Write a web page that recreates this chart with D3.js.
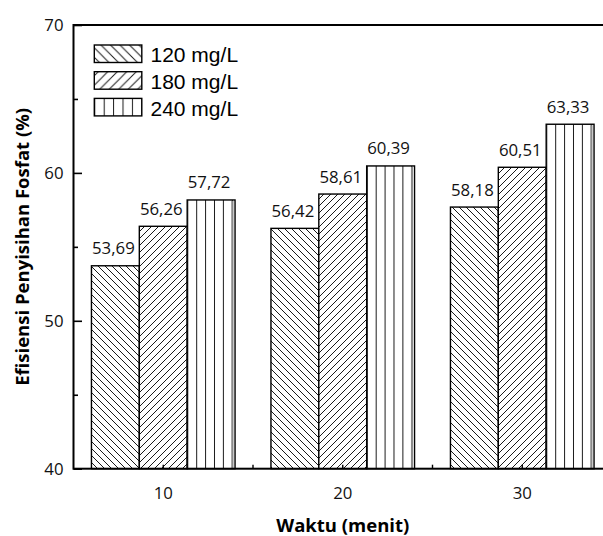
<!DOCTYPE html>
<html>
<head>
<meta charset="utf-8">
<script src="https://cdn.jsdelivr.net/npm/d3@7"></script>
<style>
  html, body { margin: 0; padding: 0; background: #fff; }
  svg { display: block; }
</style>
</head>
<body>
<svg id="chart" width="603" height="536"></svg>
<script>
// ---- data ----
const categories = ["10", "20", "30"];
const seriesNames = ["120 mg/L", "180 mg/L", "240 mg/L"];
const values120 = [53.72, 56.25, 57.69];
const values180 = [56.39, 58.57, 60.38];
const values240 = [58.17, 60.47, 63.29];
const labels120 = ["53,69", "56,42", "58,18"];
const labels180 = ["56,26", "58,61", "60,51"];
const labels240 = ["57,72", "60,39", "63,33"];
const yTicks = [40, 50, 60, 70];
const yMinorTicks = [45, 55, 65];
const xTitle = "Waktu (menit)";
const yTitle = "Efisiensi Penyisihan Fosfat (%)";

(function () {
const seriesValues = [values120, values180, values240];
const seriesLabels = [labels120, labels180, labels240];

const svg = d3.select("#chart");
const pL = 73.5, pR = 612, pT = 25, pB = 468.7;

const x = d3.scaleBand().domain(categories).range([pL, pR]).paddingInner(0.2).paddingOuter(0.1);
const xs = d3.scaleBand().domain(seriesNames).range([0, x.bandwidth()]);
const y = d3.scaleLinear().domain([40, 70]).range([pB, pT]);

const defs = svg.append("defs");
function diagPattern(id, size, dir, ox) {
  const p = defs.append("pattern").attr("id", id).attr("patternUnits", "userSpaceOnUse")
    .attr("width", size).attr("height", size).attr("x", ox || 0);
  p.append("rect").attr("width", size).attr("height", size).attr("fill", "#fff");
  const s = size;
  if (dir === "back") {
    p.append("path").attr("d", `M0,0 L${s},${s} M${-s/2},${s/2} L${s/2},${3*s/2} M${s/2},${-s/2} L${3*s/2},${s/2}`)
      .attr("stroke", "#1a1a1a").attr("stroke-width", 1).attr("fill", "none");
  } else {
    p.append("path").attr("d", `M0,${s} L${s},0 M${-s/2},${s/2} L${s/2},${-s/2} M${s/2},${3*s/2} L${3*s/2},${s/2}`)
      .attr("stroke", "#1a1a1a").attr("stroke-width", 1).attr("fill", "none");
  }
}
function vertPattern(id, size, ox) {
  const p = defs.append("pattern").attr("id", id).attr("patternUnits", "userSpaceOnUse")
    .attr("width", size).attr("height", 10).attr("x", ox);
  p.append("rect").attr("width", size).attr("height", 10).attr("fill", "#fff");
  p.append("line").attr("x1", 0.5).attr("x2", 0.5).attr("y1", 0).attr("y2", 10)
    .attr("stroke", "#1a1a1a").attr("stroke-width", 1);
}
diagPattern("pat0", 7, "back");
diagPattern("pat1", 7, "fwd");
diagPattern("leg0", 9.5, "back", 94);
diagPattern("leg1", 9.5, "fwd", 94);

// ---- bars ----
const barData = [];
categories.forEach((c, ci) => {
  seriesNames.forEach((s, si) => {
    barData.push({ c, s, si, v: seriesValues[si][ci], label: seriesLabels[si][ci] });
  });
});
barData.forEach((d, i) => {
  if (d.si === 2) vertPattern("vp" + i, 8.9, x(d.c) + xs(d.s) + 9);
});

const g = svg.append("g");
g.selectAll("rect.bar").data(barData).join("rect")
  .attr("class", "bar")
  .attr("x", d => x(d.c) + xs(d.s))
  .attr("y", d => y(d.v))
  .attr("width", xs.bandwidth())
  .attr("height", d => y(40) - y(d.v))
  .attr("fill", (d, i) => d.si === 2 ? `url(#vp${i})` : `url(#pat${d.si})`)
  .attr("stroke", "#000").attr("stroke-width", 1.4);

// gray shading line near right edge of 240 bars
g.selectAll("line.shade").data(barData.filter(d => d.si === 2)).join("line")
  .attr("class", "shade")
  .attr("x1", d => x(d.c) + xs(d.s) + xs.bandwidth() - 2.6)
  .attr("x2", d => x(d.c) + xs(d.s) + xs.bandwidth() - 2.6)
  .attr("y1", d => y(d.v) + 1)
  .attr("y2", y(40))
  .attr("stroke", "#8a8a8a").attr("stroke-width", 2);

const font = "'Open Sans', 'Noto Sans', sans-serif";

// value labels
g.selectAll("text.val").data(barData).join("text")
  .attr("class", "val")
  .attr("x", d => x(d.c) + xs(d.s) + xs.bandwidth() / 2 - 2)
  .attr("y", d => y(d.v) - 11.5)
  .attr("text-anchor", "middle")
  .style("font-family", font)
  .style("font-size", "16.8px")
  .attr("fill", "#111")
  .text(d => d.label);

// ---- axes ----
const yAxis = d3.axisLeft(y).tickValues(yTicks).tickSizeInner(-8.5).tickSizeOuter(0).tickPadding(10).tickFormat(d3.format("d"));
const ya = svg.append("g").attr("transform", `translate(${pL},0)`).call(yAxis);
ya.select(".domain").remove();
ya.selectAll("line").attr("stroke", "#000").attr("stroke-width", 1.6);
ya.selectAll("text").style("font-family", font).style("font-size", "16.8px").attr("fill", "#111");

const yMinor = d3.axisLeft(y).tickValues(yMinorTicks).tickSizeInner(-4.5).tickSizeOuter(0).tickFormat("");
const ym = svg.append("g").attr("transform", `translate(${pL},0)`).call(yMinor);
ym.select(".domain").remove();
ym.selectAll("line").attr("stroke", "#000").attr("stroke-width", 1.6);

const xAxis = d3.axisBottom(x).tickSizeInner(-4).tickSizeOuter(0).tickPadding(18);
const xa = svg.append("g").attr("transform", `translate(0,${pB})`).call(xAxis);
xa.select(".domain").remove();
xa.selectAll("line").attr("stroke", "#000").attr("stroke-width", 1.4);
xa.selectAll("text").style("font-family", font).style("font-size", "16.8px").attr("fill", "#111");

// minor x ticks between groups
const step = x.step();
const minorX = categories.slice(0, -1).map(c => x(c) + x.bandwidth() / 2 + step / 2);
svg.selectAll("line.xminor").data(minorX).join("line")
  .attr("class", "xminor")
  .attr("x1", d => d).attr("x2", d => d)
  .attr("y1", pB).attr("y2", pB - 4)
  .attr("stroke", "#000").attr("stroke-width", 1.4);

// frame
svg.append("rect").attr("x", pL).attr("y", pT).attr("width", pR - pL).attr("height", pB - pT)
  .attr("fill", "none").attr("stroke", "#000").attr("stroke-width", 2);

// ---- legend ----
const legend = svg.append("g");
vertPattern("legv", 9.4, 94.3);
seriesNames.forEach((s, i) => {
  const ly = 45 + i * 26.7;
  const fill = i === 2 ? "url(#legv)" : `url(#leg${i})`;
  legend.append("rect").attr("x", 94.3).attr("y", ly).attr("width", 47.5).attr("height", 17.5)
    .attr("fill", fill).attr("stroke", "#000").attr("stroke-width", 1.4);
  legend.append("text").attr("x", 150.5).attr("y", ly + 17.2)
    .style("font-family", "'Liberation Sans', Arial, sans-serif").style("font-size", "21px")
    .attr("fill", "#000").text(s);
});

// ---- titles ----
svg.append("text").attr("x", (pL + pR) / 2).attr("y", 532)
  .attr("text-anchor", "middle")
  .style("font-family", font).style("font-size", "18.5px").style("font-weight", "bold")
  .attr("fill", "#000").text(xTitle);
svg.append("text").attr("transform", `translate(29,${(pT + pB) / 2}) rotate(-90)`)
  .attr("text-anchor", "middle")
  .style("font-family", font).style("font-size", "18.5px").style("font-weight", "bold")
  .attr("fill", "#000").text(yTitle);
})();
</script>
</body>
</html>
